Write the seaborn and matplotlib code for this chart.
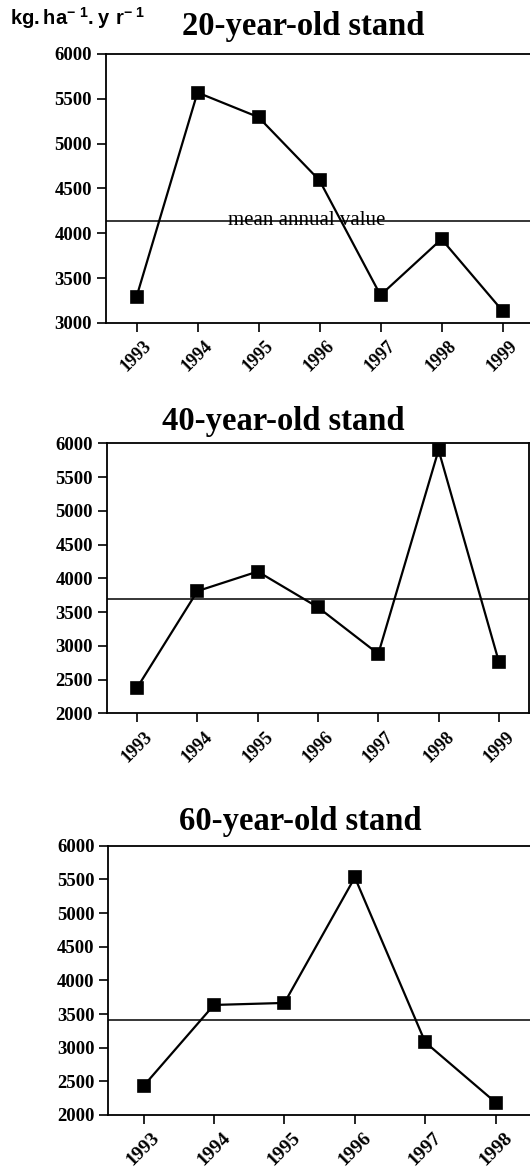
import matplotlib
matplotlib.use("Agg")
import matplotlib.pyplot as plt
import seaborn as sns

# ---- data ----
years_20 = ["1993", "1994", "1995", "1996", "1997", "1998", "1999"]
values_20 = [3290, 5570, 5295, 4590, 3310, 3935, 3135]
mean_20 = 4140

years_40 = ["1993", "1994", "1995", "1996", "1997", "1998", "1999"]
values_40 = [2380, 3810, 4100, 3570, 2880, 5900, 2765]
mean_40 = 3700

years_60 = ["1993", "1994", "1995", "1996", "1997", "1998"]
values_60 = [2430, 3635, 3665, 5530, 3080, 2185]
mean_60 = 3410

titles = ["20-year-old stand", "40-year-old stand", "60-year-old stand"]
unit_label = r"$\mathbf{kg{.}ha^{-\ 1}{.}y\ r^{-\ 1}}$"
mean_label = "mean annual value"

sns.set_style("ticks")
plt.rcParams["font.family"] = ["Liberation Serif", "DejaVu Serif"]
plt.rcParams["mathtext.fontset"] = "custom"
plt.rcParams["mathtext.rm"] = "Liberation Sans"
plt.rcParams["mathtext.bf"] = "Liberation Sans:bold"
plt.rcParams["axes.linewidth"] = 1.3
plt.rcParams["axes.edgecolor"] = "black"
plt.rcParams["text.color"] = "black"
plt.rcParams["xtick.color"] = "black"
plt.rcParams["ytick.color"] = "black"
plt.rcParams["xtick.labelcolor"] = "black"
plt.rcParams["ytick.labelcolor"] = "black"

fig = plt.figure(figsize=(5.3, 11.68), dpi=100)

panels = [
    dict(years=years_20, values=values_20, mean=mean_20, ylim=(3000, 6000),
         pos=[0.2, 0.7235, 0.8057, 0.2303], title_xy=(303 / 530, 1 - 35 / 1168), xfs=13),
    dict(years=years_40, values=values_40, mean=mean_40, ylim=(2000, 6000),
         pos=[0.2019, 0.3893, 0.7962, 0.2312], title_xy=(283 / 530, 1 - 430 / 1168), xfs=13),
    dict(years=years_60, values=values_60, mean=mean_60, ylim=(2000, 6000),
         pos=[0.2043, 0.04538, 0.7975, 0.2305], title_xy=(300 / 530, 1 - 830 / 1168), xfs=14),
]

for i, p in enumerate(panels):
    ax = fig.add_axes(p["pos"])
    sns.pointplot(x=p["years"], y=p["values"], color="black", marker="s",
                  markersize=8.8, linewidth=1.6, errorbar=None, ax=ax)
    for coll in ax.collections:
        coll.set_clip_on(False)
    for ln in ax.lines:
        ln.set_clip_on(False)
    ax.axhline(p["mean"], color="black", lw=1.1, zorder=1)
    n = len(p["years"])
    ax.set_xlim(-0.5, n - 0.5)
    ax.set_ylim(*p["ylim"])
    ax.set_yticks(range(p["ylim"][0], p["ylim"][1] + 1, 500))
    ax.set_xlabel("")
    ax.set_ylabel("")
    for s in ax.spines.values():
        s.set_visible(True)
        s.set_linewidth(1.3)
        s.set_color("black")
    ax.tick_params(axis="both", direction="out", length=6.5, width=1.2,
                   color="black", labelcolor="black")
    ax.tick_params(axis="y", labelsize=13.5, pad=3.5)
    ax.tick_params(axis="x", labelsize=p["xfs"], pad=4)
    for lab in ax.get_yticklabels():
        lab.set_fontweight("bold")
    for lab in ax.get_xticklabels():
        lab.set_fontweight("bold")
        lab.set_rotation(45)
        lab.set_ha("center")
    fig.text(p["title_xy"][0], p["title_xy"][1], titles[i], ha="center",
             va="baseline", fontsize=23.5, fontweight="bold", color="black")
    if i == 0:
        ax.text(1.5, p["mean"] - 45, mean_label, ha="left", va="baseline",
                fontsize=15, zorder=0, color="black")

fig.text(10 / 530, 1 - 25 / 1168, unit_label, ha="left", va="baseline",
         fontsize=14.5, color="black")

fig.savefig("out.png", dpi=100)
